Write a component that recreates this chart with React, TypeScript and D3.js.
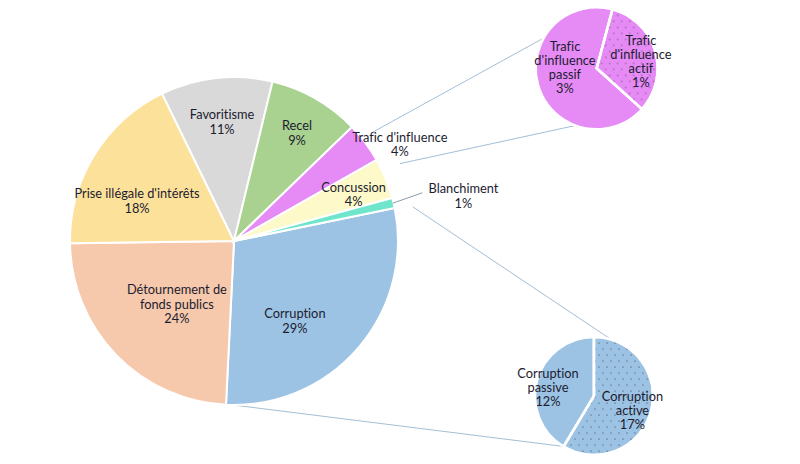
import React from "react";
import * as d3 from "d3";

// ---- Data ----
const mainCategories = [
  "Corruption",
  "Détournement de fonds publics",
  "Prise illégale d'intérêts",
  "Favoritisme",
  "Recel",
  "Trafic d'influence",
  "Concussion",
  "Blanchiment",
];
const mainValues = [29, 24, 18, 11, 9, 4, 4, 1];
const mainLabelLines = [
  ["Corruption"],
  ["Détournement de", "fonds publics"],
  ["Prise illégale d'intérêts"],
  ["Favoritisme"],
  ["Recel"],
  ["Trafic d'influence"],
  ["Concussion"],
  ["Blanchiment"],
];
const mainColors = ["#9DC3E4", "#F6C9AC", "#FCE19B", "#D9D9D9", "#A9D18F", "#E68BF6", "#FDF9C8", "#6FE5CC"];

const traficCategories = ["Trafic d'influence passif", "Trafic d'influence actif"];
const traficValues = [2.7, 1.3];
const traficLabelLines = [["Trafic", "d'influence", "passif"], ["Trafic", "d'influence", "actif"]];

const corruptionCategories = ["Corruption passive", "Corruption active"];
const corruptionValues = [12, 17];
const corruptionLabelLines = [["Corruption", "passive"], ["Corruption", "active"]];

// ---- Layout ----
const W = 800, H = 464;
const deg = Math.PI / 180;
const main = { cx: 234, cy: 241, r: 164, start: 78.4 };
const top = { cx: 596.7, cy: 68.3, r: 61, start: 132 };
const bot = { cx: 594, cy: 396, r: 59, start: 211 };
const mainLabelOffsets: [number, number][] = [
  [-30, 2], [29, -20], [5, 23], [1, 0], [3.5, -4], [70, -25], [9, -1], [113, -17],
];
const topLabelOffsets: [number, number][] = [[-2.5, -9.5], [15, 1.4]];
const botLabelOffsets: [number, number][] = [[-17.6, -0.5], [10, 7]];
const FONT = "Lato, 'Open Sans', sans-serif";
const FONT_SIZE = 12.8;
const TEXT = "#1C1C30";
const LINE = "#A4BED6";

function polar(cx: number, cy: number, r: number, aDeg: number): [number, number] {
  const a = aDeg * deg;
  return [cx + Math.sin(a) * r, cy - Math.cos(a) * r];
}

function Label({ x, y, lines, spacing = 14.5 }: { x: number; y: number; lines: string[]; spacing?: number }) {
  const n = lines.length;
  return (
    <g>
      {lines.map((l, i) => (
        <text key={i} x={x} y={y + (i - (n - 1) / 2) * spacing} dy="0.35em" textAnchor="middle"
          fontFamily={FONT} fontSize={FONT_SIZE} fill={TEXT}
          style={{ fontVariantLigatures: "none", fontFeatureSettings: "'liga' 0" }}>
          {l}
        </text>
      ))}
    </g>
  );
}

function SubPie({
  cfg, values, colors, lines, offsets, patternId,
}: {
  cfg: { cx: number; cy: number; r: number; start: number };
  values: number[]; colors: string[]; lines: string[][]; offsets: [number, number][]; patternId: string;
}) {
  const pie = d3.pie<number>().sort(null).value((d) => d)
    .startAngle(cfg.start * deg).endAngle((cfg.start + 360) * deg);
  const arcs = pie(values);
  const arc = d3.arc<d3.PieArcDatum<number>>().innerRadius(0).outerRadius(cfg.r);
  const labelArc = d3.arc<d3.PieArcDatum<number>>().innerRadius(cfg.r * 0.5).outerRadius(cfg.r * 0.5);
  return (
    <g transform={`translate(${cfg.cx},${cfg.cy})`}>
      {arcs.map((a, i) => (
        <g key={i}>
          <path d={arc(a) || ""} fill={colors[i]} stroke="#fff" strokeWidth={2.5} />
          {i === 1 && <path d={arc(a) || ""} fill={`url(#${patternId})`} stroke="#fff" strokeWidth={2.5} />}
        </g>
      ))}
      {arcs.map((a, i) => {
        const [x, y] = labelArc.centroid(a);
        return (
          <Label key={i} x={x + offsets[i][0]} y={y + offsets[i][1]} spacing={14}
            lines={[...lines[i], `${Math.round(values[i])}%`]} />
        );
      })}
    </g>
  );
}

export default function App() {
  const pie = d3.pie<number>().sort(null).value((d) => d)
    .startAngle(main.start * deg).endAngle((main.start + 360) * deg);
  const arcs = pie(mainValues);
  const arc = d3.arc<d3.PieArcDatum<number>>().innerRadius(0).outerRadius(main.r);
  const labelArc = d3.arc<d3.PieArcDatum<number>>().innerRadius(main.r * 0.73).outerRadius(main.r * 0.73);

  const corrArc = arcs[0];
  const mainTotal = d3.sum(mainValues);

  // connector lines (main pie polar -> sub pie polar)
  const connectors = [
    { from: polar(main.cx, main.cy, main.r * 1.077, 51.9), to: polar(top.cx, top.cy, top.r, 299.8) },
    { from: polar(main.cx, main.cy, main.r * 1.116, 65), to: polar(top.cx, top.cy, top.r, 200.3) },
    { from: polar(main.cx, main.cy, main.r * 1.11, (corrArc.startAngle / deg) + 0.8), to: polar(bot.cx, bot.cy, bot.r, 17) },
    { from: polar(main.cx, main.cy, main.r * 0.993, 186), to: polar(bot.cx, bot.cy, bot.r, 211.3) },
  ];

  // Blanchiment leader
  const bl = arcs[7];
  const blMid = ((bl.startAngle + bl.endAngle) / 2) / deg;
  const blFrom = polar(main.cx, main.cy, main.r * 0.995, blMid);
  const [bcx, bcy] = labelArc.centroid(bl);
  const blLabelX = main.cx + bcx + mainLabelOffsets[7][0];
  const blLabelY = main.cy + bcy + mainLabelOffsets[7][1];
  const blTo: [number, number] = [blLabelX - 41, blLabelY - 3.5];

  return (
    <svg width={W} height={H} style={{ position: "absolute", left: 0, top: 0, background: "#fff" }}>
      <title>{[...mainCategories, ...traficCategories, ...corruptionCategories].join(", ")}</title>
      <defs>
        <pattern id="dotsViolet" width={8} height={12} patternUnits="userSpaceOnUse">
          <circle cx={1} cy={1} r={0.55} fill="#2a2a2a" />
          <circle cx={5} cy={7} r={0.55} fill="#2a2a2a" />
        </pattern>
        <pattern id="dotsBlue" width={8} height={12} patternUnits="userSpaceOnUse">
          <circle cx={1} cy={1} r={0.55} fill="#2a2a3a" />
          <circle cx={5} cy={7} r={0.55} fill="#2a2a3a" />
        </pattern>
      </defs>
      <rect width={W} height={H} fill="#fff" />

      {connectors.map((c, i) => (
        <line key={i} x1={c.from[0]} y1={c.from[1]} x2={c.to[0]} y2={c.to[1]} stroke={LINE} strokeWidth={1} />
      ))}

      <g transform={`translate(${main.cx},${main.cy})`}>
        {arcs.map((a, i) => (
          <path key={i} d={arc(a) || ""} fill={mainColors[i]} stroke="#fff" strokeWidth={2} />
        ))}
      </g>

      <line x1={blFrom[0]} y1={blFrom[1]} x2={blTo[0]} y2={blTo[1]} stroke="#8E9AA8" strokeWidth={1} />

      {arcs.map((a, i) => {
        const [x, y] = labelArc.centroid(a);
        const pct = Math.round((mainValues[i] / mainTotal) * 100);
        return (
          <Label key={i} x={main.cx + x + mainLabelOffsets[i][0]} y={main.cy + y + mainLabelOffsets[i][1]}
            lines={[...mainLabelLines[i], `${pct}%`]} />
        );
      })}

      <SubPie cfg={top} values={traficValues} colors={[mainColors[5], mainColors[5]]}
        lines={traficLabelLines} offsets={topLabelOffsets} patternId="dotsViolet" />
      <SubPie cfg={bot} values={corruptionValues} colors={[mainColors[0], mainColors[0]]}
        lines={corruptionLabelLines} offsets={botLabelOffsets} patternId="dotsBlue" />
    </svg>
  );
}
